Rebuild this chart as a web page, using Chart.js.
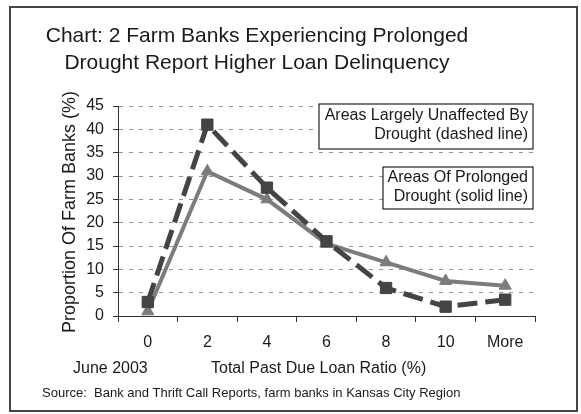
<!DOCTYPE html>
<html>
<head>
<meta charset="utf-8">
<script src="https://cdn.jsdelivr.net/npm/chart.js@4"></script>
<style>
  html, body { margin: 0; padding: 0; background: #fff; }
  #wrap { width: 581px; height: 414px; }
</style>
</head>
<body>
<div id="wrap"><canvas id="myChart"></canvas></div>
<script>
const FONT = '"Liberation Sans", Arial, sans-serif';

const ratioLabels = ['0', '2', '4', '6', '8', '10', 'More'];
const unaffected = [3, 41, 27.5, 16, 6, 2, 3.5];
const prolonged = [1, 31, 25, 15.5, 11.5, 7.5, 6.5];

const titleLines = ['Chart: 2 Farm Banks Experiencing Prolonged', 'Drought Report Higher Loan Delinquency'];
const unaffectedNote = ['Areas Largely Unaffected By', 'Drought (dashed line)'];
const prolongedNote = ['Areas Of Prolonged', 'Drought (solid line)'];

// frame, titles, notes and source line
const decorations = {
  id: 'decorations',
  afterDraw(chart) {
    const ctx = chart.ctx;
    ctx.save();

    ctx.strokeStyle = '#444';
    ctx.lineWidth = 2;
    ctx.strokeRect(10, 7, 567, 404);

    ctx.fillStyle = '#1a1a1a';
    ctx.textAlign = 'center';
    ctx.textBaseline = 'alphabetic';
    ctx.font = '21px ' + FONT;
    ctx.fillText(titleLines[0], 257, 42);
    ctx.fillText(titleLines[1], 257, 69);

    ctx.save();
    ctx.translate(75, 212);
    ctx.rotate(-Math.PI / 2);
    ctx.font = '18px ' + FONT;
    ctx.fillText('Proportion Of Farm Banks (%)', 0, 0);
    ctx.restore();

    ctx.font = '16px ' + FONT;
    ctx.textAlign = 'left';
    ctx.fillText('June 2003', 73, 373);
    ctx.fillText('Total Past Due Loan Ratio (%)', 211, 373);

    ctx.font = '13px ' + FONT;
    ctx.fillText('Source:  Bank and Thrift Call Reports, farm banks in Kansas City Region', 42, 397);

    const note = (x1, y1, x2, y2, lines, gap) => {
      ctx.fillStyle = '#fff';
      ctx.fillRect(x1, y1, x2 - x1, y2 - y1);
      ctx.strokeStyle = '#222';
      ctx.lineWidth = 1.2;
      ctx.strokeRect(x1, y1, x2 - x1, y2 - y1);
      ctx.fillStyle = '#1a1a1a';
      ctx.font = '16px ' + FONT;
      ctx.textAlign = 'right';
      ctx.fillText(lines[0], x2 - 5, y1 + gap);
      ctx.fillText(lines[1], x2 - 5, y1 + gap + 19);
    };
    note(319, 104, 533, 149, unaffectedNote, 16);
    note(383, 167, 533, 209, prolongedNote, 15);

    ctx.restore();
  }
};

const data = {
  labels: ratioLabels,
  datasets: [
    {
      label: 'Areas Largely Unaffected By Drought',
      data: unaffected,
      borderColor: '#444',
      backgroundColor: '#444',
      borderWidth: 5,
      borderDash: [20, 8],
      pointStyle: 'rect',
      pointRadius: 8,
      pointBorderWidth: 1,
      tension: 0,
    },
    {
      label: 'Areas Of Prolonged Drought',
      data: prolonged,
      borderColor: '#7c7c7c',
      backgroundColor: '#7c7c7c',
      borderWidth: 4,
      pointStyle: 'triangle',
      pointRadius: 7,
      pointBorderWidth: 1,
      tension: 0,
    },
  ],
};

const config = {
  type: 'line',
  data: data,
  plugins: [decorations],
  options: {
    responsive: true,
    maintainAspectRatio: false,
    animation: false,
    layout: { padding: { left: 0, right: 46, top: 106, bottom: 58 } },
    plugins: {
      legend: { display: false },
      title: { display: false },
      tooltip: { enabled: false },
    },
    scales: {
      x: {
        offset: true,
        afterFit(scale) { scale.height = 40; },
        grid: { drawOnChartArea: false, offset: true, tickLength: 6, tickColor: '#333', tickWidth: 1 },
        border: { color: '#333', width: 1 },
        ticks: { color: '#1a1a1a', font: { family: FONT, size: 16 }, padding: 11, maxRotation: 0 },
      },
      y: {
        min: 0,
        max: 45,
        afterFit(scale) { scale.width = 118; },
        grid: { color: '#959595', lineWidth: 1, tickLength: 5, tickColor: '#333' },
        border: { color: '#333', width: 1, dash: [4, 6] },
        ticks: { stepSize: 5, color: '#1a1a1a', font: { family: FONT, size: 16 }, padding: 9 },
      },
    },
  },
};

const myChart = new Chart(document.getElementById('myChart'), config);
</script>
</body>
</html>
